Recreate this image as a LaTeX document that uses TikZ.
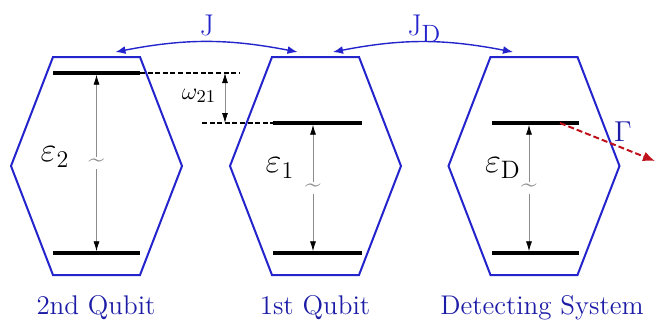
\documentclass[tikz,border=0pt]{standalone}
\usepackage{fontspec}
\usetikzlibrary{arrows.meta, positioning, calc}
\definecolor{HexBlue}{HTML}{2424CC}
\definecolor{NameBlue}{HTML}{1C1CA6}
\definecolor{DecayRed}{HTML}{C0121C}
\definecolor{GapGray}{HTML}{8C8C8C}

\begin{document}
\begin{tikzpicture}[
    x=0.5pt, y=-0.5pt,
    hexa/.style={draw=HexBlue, line width=1pt, line join=miter},
    level/.style={
        fill=black, minimum width=43.5pt, minimum height=1.7pt,
        inner sep=0pt, outer sep=0pt
    },
    gap/.style={
        {Latex[length=5pt, width=3pt, color=black]}-{Latex[length=5pt, width=3pt, color=black]},
        GapGray, line width=0.4pt
    },
    tilde/.style={fill=white, text=GapGray, inner sep=1pt, font=\fontsize{14}{14}\selectfont},
    link/.style={{Latex[length=5pt, width=4pt]}-{Latex[length=5pt, width=4pt]}, HexBlue, line width=0.7pt},
    guide/.style={black, line width=0.9pt, dash pattern=on 2.5pt off 1.3pt},
    eps/.style={font=\fontsize{18}{20}\selectfont},
    qname/.style={text=NameBlue, font=\fontsize{13.5}{16}\selectfont, anchor=base},
    every node/.style={font=\fontsize{14}{17}\selectfont}
]
\useasboundingbox (0,0) rectangle (655,322);

% =============================================
% Hexagons: 2nd qubit, 1st qubit, detecting system
% =============================================
\foreach \n/\cx in {q2/96.5, q1/315.5, qd/534}{
    \draw[hexa] (\cx-43.5,57) -- (\cx+43.5,57) -- (\cx+85.5,166)
        -- (\cx+43.5,275) -- (\cx-43.5,275) -- (\cx-85.5,166) -- cycle;
    \coordinate (\n-top) at (\cx,57);
}

% =============================================
% Energy levels
% =============================================
\node[level] (q2-up) at (96.5,73) {};
\node[level] (q2-dn) at (96.5,253) {};
\node[level, minimum width=44.5pt] (q1-up) at (317.5,123) {};
\node[level, minimum width=44.5pt] (q1-dn) at (317.5,253) {};
\node[level] (qd-up) at (535,123) {};
\node[level] (qd-dn) at (535,253) {};

% splittings
\draw[gap] (q2-up) -- (q2-dn) node[tilde, midway] {\textasciitilde};
\draw[gap] ([xshift=-2.25pt]q1-up.south) -- ([xshift=-2.25pt]q1-dn.north)
    node[tilde, midway] {\textasciitilde};
\draw[gap] ([xshift=-3pt]qd-up.south) -- ([xshift=-3pt]qd-dn.north)
    node[tilde, midway] {\textasciitilde};

\node[eps] (e2) at (55,157) {$\varepsilon_{2}$};
\node[eps] (e1) at (280,168) {$\varepsilon_{1}$};
\node[eps] (eD) at (503,168) {$\varepsilon_{\mathrm{D}}$};

% =============================================
% Detuning between the two qubits
% =============================================
\coordinate (w-end) at (240,73);
\coordinate (w-start) at (202,123);
\coordinate (w-top) at (225,73);
\coordinate (w-bot) at (225,123);

\draw[guide] (q2-up.east) -- (w-end);
\draw[guide] (w-start) -- (q1-up.west);
\draw[gap] (w-top) -- (w-bot);
\node[font=\fontsize{13}{15}\selectfont] (w21) at (199,96) {$\omega_{21}$};

% =============================================
% Couplings J and J_D
% =============================================
\draw[link] ($(q2-top)+(19,-5)$) to[bend left=11] ($(q1-top)+(-18,-5)$);
\node[text=HexBlue, font=\fontsize{15}{17}\selectfont] (J) at (207,25) {J};

\draw[link] ($(q1-top)+(17.5,-5)$) to[bend left=11] ($(qd-top)+(-21,-5)$);
\node[text=HexBlue, font=\fontsize{15}{17}\selectfont] (JD) at (424,29)
    {J\raisebox{-0.55ex}{\fontsize{12.5}{13}\selectfont D}};

% =============================================
% Decay of the detector
% =============================================
\coordinate (gam-end) at (655,161);
\draw[DecayRed, line width=1pt, dash pattern=on 3pt off 1.5pt,
      -{Latex[length=6pt, width=5pt]}]
    ([xshift=12.5pt]qd-up.center) -- (gam-end);
\node[text=NameBlue] (gam) at (623,132) {$\Gamma$};

% =============================================
% Names
% =============================================
\node[qname] (q2-name) at (96,314) {2nd Qubit};
\node[qname] (q1-name) at (315,314) {1st Qubit};
\node[qname] (qd-name) at (542,314) {Detecting System};

\end{tikzpicture}
\end{document}
